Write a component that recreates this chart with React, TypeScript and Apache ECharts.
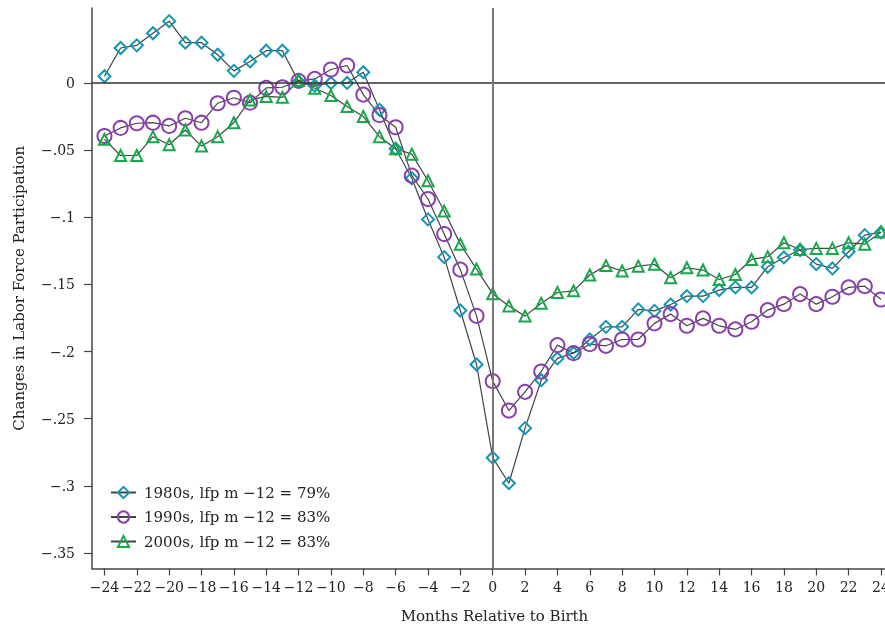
import React, { useEffect, useRef } from "react";
import * as echarts from "echarts";

const months = [
  -24, -23, -22, -21, -20, -19, -18, -17, -16, -15, -14, -13, -12, -11, -10, -9, -8, -7, -6, -5, -4, -3, -2, -1,
  0, 1, 2, 3, 4, 5, 6, 7, 8, 9, 10, 11, 12, 13, 14, 15, 16, 17, 18, 19, 20, 21, 22, 23, 24,
];

const s1980 = [
  0.005, 0.026, 0.028, 0.037, 0.046, 0.03, 0.03, 0.021, 0.009, 0.016, 0.024, 0.024, 0.001, -0.002, 0.0, 0.0,
  0.008, -0.02, -0.049, -0.071, -0.1016, -0.1297, -0.1694, -0.2096, -0.279, -0.298, -0.257, -0.2213, -0.2051,
  -0.201, -0.191, -0.1816, -0.1816, -0.1686, -0.1697, -0.165, -0.1587, -0.1587, -0.1542, -0.1522, -0.1522,
  -0.1369, -0.1299, -0.1244, -0.1349, -0.1381, -0.1257, -0.1133, -0.1113,
];

const s1990 = [
  -0.0395, -0.0335, -0.03, -0.0296, -0.032, -0.0263, -0.0296, -0.0151, -0.011, -0.0147, -0.0037, -0.0032, 0.0015,
  0.003, 0.01, 0.013, -0.0087, -0.024, -0.033, -0.069, -0.0864, -0.1125, -0.139, -0.1734, -0.222, -0.2439, -0.23,
  -0.2148, -0.1952, -0.2012, -0.1945, -0.1957, -0.191, -0.191, -0.179, -0.1721, -0.1808, -0.1753, -0.1808,
  -0.1835, -0.1778, -0.1691, -0.1647, -0.1572, -0.1647, -0.1592, -0.1522, -0.1513, -0.1612,
];

const s2000 = [
  -0.042, -0.054, -0.054, -0.04, -0.046, -0.035, -0.047, -0.04, -0.0296, -0.0127, -0.01, -0.0107, 0.002, -0.004,
  -0.0094, -0.0176, -0.025, -0.04, -0.049, -0.053, -0.0728, -0.0954, -0.12, -0.1386, -0.157, -0.166, -0.1736,
  -0.164, -0.156, -0.1548, -0.143, -0.136, -0.14, -0.1364, -0.135, -0.145, -0.1376, -0.1393, -0.1463, -0.1426,
  -0.1314, -0.1294, -0.119, -0.124, -0.1232, -0.1232, -0.119, -0.12, -0.111,
];

const xTicks = [-24, -22, -20, -18, -16, -14, -12, -10, -8, -6, -4, -2, 0, 2, 4, 6, 8, 10, 12, 14, 16, 18, 20, 22, 24];
const yTicks = [-0.35, -0.3, -0.25, -0.2, -0.15, -0.1, -0.05, 0];

const seriesNames = ["1980s, lfp m \u221212 = 79%", "1990s, lfp m \u221212 = 83%", "2000s, lfp m \u221212 = 83%"];
const seriesColors = ["#1197b3", "#8a3fad", "#17a84b"];

const FONT = "DejaVu Serif";

function pair(vals: number[]) {
  return months.map((m, i) => [m, vals[i]]);
}

export default function App() {
  const ref = useRef<HTMLDivElement>(null);
  useEffect(() => {
    if (!ref.current) return;
    const chart = echarts.init(ref.current, undefined, { renderer: "svg" });
    const lineStyle = { color: "#444", width: 1.2 };
    const mk = (name: string, data: number[], color: string, symbol: string, size: number, extra?: any) => ({
      name,
      type: "line",
      data: pair(data),
      symbol,
      symbolSize: size,
      showAllSymbol: true,
      lineStyle,
      itemStyle: { color: "transparent", borderColor: color, borderWidth: 2 },
      emphasis: { disabled: true },
      z: 3,
      ...(extra || {}),
    });
    chart.setOption({
      animation: false,
      textStyle: { fontFamily: FONT },
      grid: { left: 92, top: 8, right: 0, bottom: 60.5, containLabel: false, outerBoundsMode: "none" },
      legend: {
        orient: "vertical",
        left: 105,
        top: 480,
        itemWidth: 25,
        itemHeight: 14,
        itemGap: 9.5,
        textStyle: { fontFamily: FONT, fontSize: 15, color: "#222", padding: [0, 0, 0, 3] },
        data: seriesNames,
      },
      xAxis: {
        type: "value",
        min: -24.77,
        max: 24.25,
        name: "Months Relative to Birth",
        nameLocation: "middle",
        nameGap: 40,
        nameTextStyle: { fontFamily: FONT, fontSize: 15, color: "#222", padding: [0, 0, 0, 12] },
        axisLine: { show: true, onZero: false, lineStyle: { color: "#444", width: 1.5 } },
        axisTick: { show: true, customValues: xTicks, length: 7, lineStyle: { color: "#444", width: 1.2 } },
        axisLabel: {
          customValues: xTicks,
          margin: 11,
          fontSize: 14,
          color: "#222",
          fontFamily: FONT,
          formatter: (v: number) => (v < 0 ? "\u2212" + Math.abs(v) : String(v)),
        },
        splitLine: { show: false },
      },
      yAxis: {
        type: "value",
        min: -0.3615,
        max: 0.0558,
        name: "Changes in Labor Force Participation",
        nameLocation: "middle",
        nameGap: 66,
        nameTextStyle: { fontFamily: FONT, fontSize: 15, color: "#222" },
        axisLine: { show: true, onZero: false, lineStyle: { color: "#444", width: 1.5 } },
        axisTick: { show: true, customValues: yTicks, length: 8, lineStyle: { color: "#444", width: 1.2 } },
        axisLabel: {
          customValues: yTicks,
          margin: 17,
          fontSize: 14,
          color: "#222",
          fontFamily: FONT,
          formatter: (v: number) => {
            if (Math.abs(v) < 1e-9) return "0";
            const s = String(parseFloat(Math.abs(v).toFixed(3))).replace(/^0/, "");
            return (v < 0 ? "\u2212" : "") + s;
          },
        },
        splitLine: { show: false },
      },
      series: [
        mk(seriesNames[0], s1980, seriesColors[0], "diamond", 12, {
          markLine: {
            silent: true,
            symbol: "none",
            label: { show: false },
            animation: false,
            data: [
              { yAxis: 0, lineStyle: { color: "#333", width: 1.5, type: "solid" } },
              { xAxis: 0, lineStyle: { color: "#777", width: 2, type: "solid" } },
            ],
          },
        }),
        mk(seriesNames[1], s1990, seriesColors[1], "circle", 14),
        mk(seriesNames[2], s2000, seriesColors[2], "triangle", 11),
      ],
    });
    return () => chart.dispose();
  }, []);
  return <div ref={ref} style={{ position: "fixed", left: 0, top: 0, width: 885, height: 629 }} />;
}
